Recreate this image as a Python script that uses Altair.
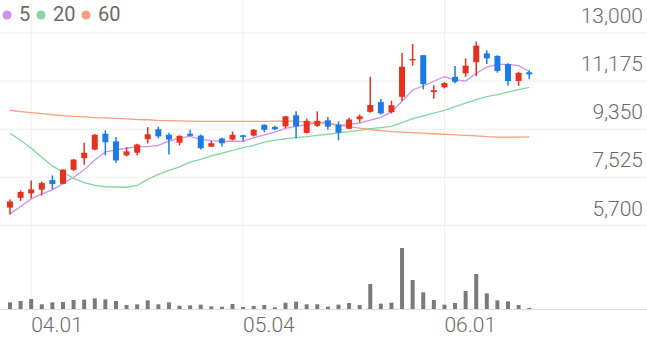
import altair as alt
import pandas as pd

# ---- data ----
open_ = [6380, 6750, 6920, 7060, 7420, 7280, 7810, 8250, 8580, 9180,
         8890, 8360, 8460, 8970, 9350, 9140, 8840, 9180, 9110, 8690,
         9000, 8960, 9120, 9110, 9520, 9440, 9460, 9880, 9210, 9480,
         9690, 9530, 9370, 9730, 10010, 10380, 10000, 10580, 11960, 12160,
         10760, 10940, 11340, 11470, 11890, 12230, 12130, 11820, 11180, 11510]
high = [6690, 7030, 7410, 7370, 7600, 7830, 8220, 8840, 9170, 9310,
        9060, 8670, 8800, 9430, 9450, 9220, 9120, 9330, 9150, 8910,
        9030, 9260, 9140, 9350, 9540, 9480, 9860, 10030, 9750, 10030,
        9810, 9650, 9790, 9910, 11340, 10500, 10430, 12240, 12580, 12170,
        11020, 11140, 11750, 12040, 12680, 12350, 12160, 11850, 11530, 11590]
low = [6120, 6630, 6730, 6840, 7070, 7260, 7770, 8000, 8550, 8360,
       8080, 8320, 8360, 8810, 9000, 8390, 8740, 9080, 8580, 8680,
       8700, 8930, 8890, 9080, 9240, 9310, 9390, 9000, 9190, 9440,
       9330, 8930, 9350, 9600, 9980, 9910, 9950, 10430, 11760, 10870,
       10510, 10900, 11090, 11340, 11370, 11820, 11490, 11000, 11000, 11250]
close = [6610, 6970, 7070, 7310, 7270, 7820, 8200, 8460, 9140, 8860,
         8170, 8510, 8770, 9160, 9080, 8960, 9100, 9100, 8630, 8820,
         8820, 9140, 9060, 9330, 9330, 9350, 9840, 9460, 9670, 9670,
         9450, 9220, 9720, 9840, 10270, 9950, 10260, 11720, 12010, 11060,
         10830, 11100, 11150, 11760, 12520, 12040, 11560, 11175, 11490, 11430]
volume = [20, 24, 30, 14, 20, 21, 27, 28, 32, 29,
          24, 12, 14, 26, 14, 20, 10, 11, 13, 8,
          7, 15, 6, 9, 12, 5, 19, 22, 14, 14,
          7, 13, 18, 12, 75, 16, 19, 183, 87, 50,
          27, 13, 18, 54, 105, 47, 26, 23, 12, 3]
ma5 = [6140, 6420, 6710, 6900, 7050, 7290, 7530, 7810, 8180, 8490,
       8570, 8630, 8690, 8690, 8740, 8900, 9010, 9080, 8970, 8920,
       8890, 8900, 8890, 9030, 9140, 9240, 9380, 9460, 9530, 9600,
       9620, 9490, 9540, 9580, 9700, 9800, 10010, 10410, 10840, 10990,
       11170, 11340, 11220, 11180, 11470, 11710, 11810, 11810, 11760, 11540]
ma20 = [9190, 8930, 8630, 8290, 7960, 7720, 7490, 7330, 7220, 7170,
        7160, 7150, 7220, 7450, 7640, 7790, 7920, 8100, 8210, 8340,
        8440, 8550, 8650, 8740, 8860, 8930, 8990, 9030, 9070, 9120,
        9160, 9210, 9260, 9310, 9370, 9410, 9460, 9600, 9750, 9860,
        9960, 10070, 10210, 10340, 10470, 10590, 10660, 10760, 10850, 10940]
ma60 = [10070, 10020, 9980, 9940, 9900, 9870, 9840, 9820, 9790, 9780,
        9760, 9740, 9720, 9710, 9690, 9680, 9670, 9660, 9650, 9650,
        9650, 9650, 9650, 9650, 9650, 9660, 9670, 9650, 9630, 9600,
        9560, 9500, 9450, 9390, 9340, 9300, 9260, 9240, 9220, 9200,
        9180, 9160, 9140, 9120, 9100, 9070, 9050, 9050, 9050, 9060]

price_ticks = [13000, 11175, 9350, 7525, 5700]
date_tick_idx = [2, 22, 41]
date_tick_labels = ["04.01", "05.04", "06.01"]
ma_names = ["5", "20", "60"]
ma_colors = ["#d190f0", "#86d6a0", "#f6a07c"]

RED = "#e5311d"
BLUE = "#1c7be6"
FONT = "Roboto"
TXT = "#6a6a6a"

n = len(close)
idx = list(range(n))
df = pd.DataFrame({"i": idx, "open": open_, "high": high, "low": low,
                   "close": close, "vol": volume})
ma_long = pd.DataFrame({
    "i": idx * 3,
    "value": ma5 + ma20 + ma60,
    "ma": ["5"] * n + ["20"] * n + ["60"] * n,
})
ticks_df = pd.DataFrame({"v": price_ticks})
dates_df = pd.DataFrame({"i": date_tick_idx, "label": date_tick_labels})

W, H = 647, 337
x_scale = alt.Scale(domain=[0, n - 1], range=[5, 534.2], nice=False, zero=False)
p_scale = alt.Scale(domain=[5700, 13000], range=[225.5, 33], nice=False, zero=False)
v_scale = alt.Scale(domain=[0, 219], range=[309, 236], nice=False)

X = alt.X("i:Q", scale=x_scale, axis=None)

hgrid = alt.Chart(ticks_df).mark_rule(color="#efefef", strokeWidth=1).encode(
    y=alt.Y("v:Q", scale=p_scale, axis=None),
    x=alt.value(0), x2=alt.value(W))

vgrid = alt.Chart(dates_df).mark_rule(color="#efefef", strokeWidth=1).encode(
    x=X, y=alt.value(0), y2=alt.value(310))

vol_base = alt.Chart(ticks_df.head(1)).mark_rule(color="#dddddd", strokeWidth=1).encode(
    y=alt.value(309.5), x=alt.value(0), x2=alt.value(W))

price_labels = alt.Chart(ticks_df).mark_text(
    align="right", baseline="middle", dy=-16, fontSize=21, font=FONT,
    fontWeight=300, color=TXT).encode(
    y=alt.Y("v:Q", scale=p_scale, axis=None),
    x=alt.value(643),
    text=alt.Text("v:Q", format=","))

date_labels = alt.Chart(dates_df).mark_text(
    align="left", baseline="middle", dx=0, fontSize=21, font=FONT,
    fontWeight=300, color=TXT).encode(
    x=X, y=alt.value(326), text="label:N")

ma_lines = alt.Chart(ma_long).mark_line(strokeWidth=1.3).encode(
    x=X,
    y=alt.Y("value:Q", scale=p_scale, axis=None),
    stroke=alt.Stroke("ma:N", scale=alt.Scale(domain=ma_names, range=ma_colors),
                      legend=None),
    order="i:Q")

# invisible points that only carry the legend (filled circle symbols)
legend_layer = alt.Chart(ma_long).mark_circle(opacity=0, size=1).encode(
    x=X,
    y=alt.Y("value:Q", scale=p_scale, axis=None),
    fill=alt.Fill("ma:N", scale=alt.Scale(domain=ma_names, range=ma_colors),
                  legend=alt.Legend(orient="none", legendX=-3, legendY=5,
                                    direction="horizontal", title=None,
                                    symbolType="circle", symbolSize=80,
                                    symbolStrokeWidth=0, symbolOpacity=1,
                                    labelFontSize=20, labelFont=FONT,
                                    labelColor=TXT, labelOffset=2,
                                    columnPadding=0, padding=0)))

color_cond = alt.condition("datum.close >= datum.open", alt.value(RED), alt.value(BLUE))

wicks = alt.Chart(df).mark_rule(strokeWidth=1.5).encode(
    x=X,
    y=alt.Y("low:Q", scale=p_scale, axis=None),
    y2="high:Q",
    color=color_cond)

bodies = alt.Chart(df).mark_bar(size=6).encode(
    x=X,
    y=alt.Y("open:Q", scale=p_scale, axis=None),
    y2="close:Q",
    color=color_cond)

vol_bars = alt.Chart(df).mark_bar(size=4, color="#7a7a7a").encode(
    x=X,
    y=alt.Y("vol:Q", scale=v_scale, axis=None))

chart = alt.layer(
    hgrid, vgrid, vol_base, vol_bars, legend_layer, ma_lines, wicks, bodies,
    price_labels, date_labels
).resolve_scale(y="independent").properties(
    width=W, height=H,
    autosize=alt.AutoSizeParams(type="none"),
    padding=0,
    background="white",
).configure_view(stroke=None)

chart.save("out.html", embed_options={"renderer": "svg", "actions": False})
